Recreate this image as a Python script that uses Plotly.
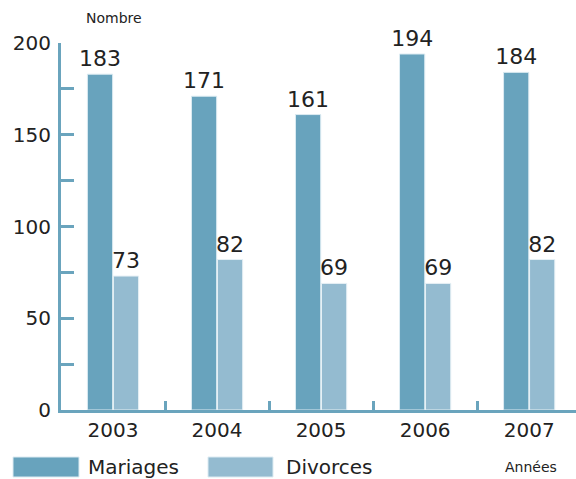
import plotly.graph_objects as go

years = ["2003", "2004", "2005", "2006", "2007"]
mariages = [183, 171, 161, 194, 184]
divorces = [73, 82, 69, 69, 82]
y_ticks = [0, 50, 100, 150, 200]

W, H = 576, 479
L, R, T, B = 61, 0, 43, 69
C_DARK = "#68a3bd"
C_LIGHT = "#94bbd0"
C_AXIS = "#6aa4bd"
C_TEXT = "#222222"
FONT = "DejaVu Sans"

def px(x):
    return (x - L) / (W - L - R)

def py(y):
    return (H - B - y) / (H - T - B)

fig = go.Figure()
fig.add_trace(go.Bar(x=years, y=mariages, name="Mariages", marker=dict(color=C_DARK, line=dict(color="#dcebf2", width=1)),
                     text=[str(v) for v in mariages], textposition="outside", cliponaxis=False, constraintext="none",
                     textfont=dict(size=22, color=C_TEXT, family=FONT)))
fig.add_trace(go.Bar(x=years, y=divorces, name="Divorces", marker=dict(color=C_LIGHT, line=dict(color="#e6f0f5", width=1)),
                     text=[str(v) for v in divorces], textposition="outside", cliponaxis=False, constraintext="none",
                     textfont=dict(size=22, color=C_TEXT, family=FONT)))

fig.update_layout(
    width=W, height=H, margin=dict(l=L, r=R, t=T, b=B),
    paper_bgcolor="white", plot_bgcolor="white",
    barmode="group", bargap=0.5, bargroupgap=0.03,
    showlegend=False,
    font=dict(family=FONT, color=C_TEXT),
)
fig.update_xaxes(range=[-0.5, 4.45], showline=True, linecolor=C_AXIS, linewidth=3,
                 ticks="inside", tickson="boundaries", ticklen=9, tickwidth=3, tickcolor=C_AXIS,
                 tickfont=dict(size=20, color=C_TEXT, family=FONT), showgrid=False, zeroline=False)
fig.update_yaxes(range=[0, 200], tickvals=y_ticks, showline=True, linecolor=C_AXIS, linewidth=3,
                 ticks="inside", ticklen=13, tickwidth=3, tickcolor=C_AXIS,
                 minor=dict(dtick=25, ticks="inside", ticklen=13, tickwidth=3, tickcolor=C_AXIS, showgrid=False),
                 tickfont=dict(size=20, color=C_TEXT, family=FONT), showgrid=False, zeroline=False, ticklabelstandoff=3)

# Legend drawn manually
for (x0, x1, col, label, tx) in [(13, 79, C_DARK, "Mariages", 86), (208, 273, C_LIGHT, "Divorces", 284)]:
    fig.add_shape(type="rect", xref="paper", yref="paper", x0=px(x0), x1=px(x1), y0=py(477), y1=py(457),
                  fillcolor=col, line=dict(color="#dcebf2", width=1))
    fig.add_annotation(xref="paper", yref="paper", x=px(tx), y=py(467), text=label, showarrow=False,
                       xanchor="left", yanchor="middle", font=dict(size=20, color=C_TEXT, family=FONT))

fig.add_annotation(xref="paper", yref="paper", x=px(503), y=py(467), text="Années", showarrow=False,
                   xanchor="left", yanchor="middle", font=dict(size=14, color=C_TEXT, family=FONT))
fig.add_annotation(xref="paper", yref="paper", x=px(84), y=py(18), text="Nombre", showarrow=False,
                   xanchor="left", yanchor="middle", font=dict(size=14, color=C_TEXT, family=FONT))

fig.write_html("out.html", config={"displayModeBar": False},
               post_script="document.body.style.margin='0';document.body.style.overflow='hidden';")
